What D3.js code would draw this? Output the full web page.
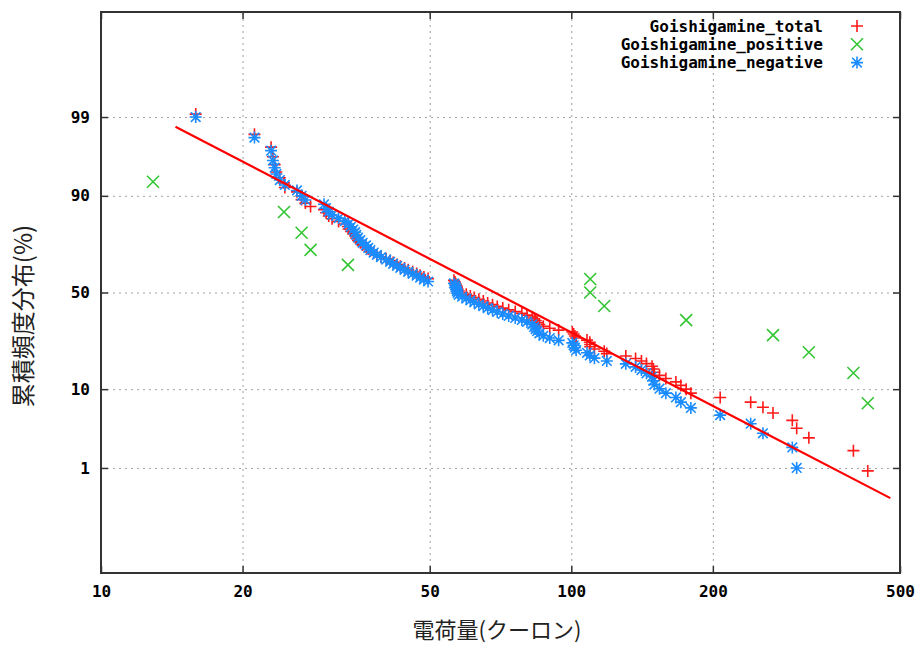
<!DOCTYPE html>
<html>
<head>
<meta charset="utf-8">
<script src="https://cdn.jsdelivr.net/npm/d3@7"></script>
<style>
  body { margin: 0; background: #fff; }
  .tick text { font-family: "DejaVu Sans Mono", monospace; font-weight: bold; font-size: 16px; fill: #000; }
  .grid line { stroke: #a0a0a0; stroke-dasharray: 2,4; }
  .grid path { display: none; }
</style>
</head>
<body>
<div id="chart"></div>
<script>
// negative discharges (blue *)
const negCharge = [15.9,21.2,23.0,23.2,23.4,23.6,24.0,24.6,26.1,26.7,27.2,29.8,30.1,30.5,31.0,32.0,33.0,33.6,34.0,34.4,
  34.7,34.9,35.2,35.6,36.0,36.6,37.0,37.4,38.0,38.6,39.4,40.4,41.2,41.8,42.6,43.3,44.2,45.0,46.0,46.9,
  47.7,48.6,49.6,56.3,56.6,56.8,57.0,57.1,57.3,57.6,58.6,59.8,61.0,62.2,63.6,65.0,66.4,68.0,69.6,71.5,
  73.6,76.0,78.5,80.5,82.6,83.4,84.0,84.6,85.5,87.2,90.0,94.0,100.5,101.2,101.8,102.4,108.0,109.5,112.0,119.0,
  130.6,137.0,141.0,144.5,148.5,149.5,150.2,154.0,158.9,166.9,171.0,179.6,207.3,240.7,255.6,295.1,301.5];
const negPct = [99.0,98.0,97.0,96.0,95.1,94.2,93.2,92.3,91.2,90.0,89.0,87.9,86.8,85.8,84.8,83.8,82.8,81.8,80.8,79.8,
  78.8,77.8,76.7,75.6,74.5,73.4,72.3,71.3,70.2,69.1,68.0,66.9,65.8,64.8,63.8,62.8,61.8,60.8,59.8,58.8,
  57.8,56.8,55.8,54.8,53.8,52.8,51.8,50.8,49.8,48.8,47.8,46.8,45.8,44.8,43.8,42.8,41.8,40.8,39.8,38.8,
  37.8,36.8,35.8,34.8,33.6,32.4,31.4,30.4,29.4,28.3,27.3,26.3,25.2,24.2,23.2,22.2,21.2,20.2,19.2,18.2,
  17.2,16.2,15.2,14.2,13.2,12.1,11.1,10.1,9.1,8.2,7.3,6.3,5.2,4.1,3.1,2.0,1.0];

// positive discharges (green x)
const posCharge = [12.9,24.5,26.7,27.9,33.5,109.7,109.7,117.5,175.5,268.5,320,398,427];
const posPct = [92.9,85.7,78.6,71.4,64.3,57.1,50.0,42.9,35.7,28.6,21.4,14.3,7.1];

// all discharges (red +)
const totCharge = [15.9,21.2,23.0,23.2,23.4,23.6,24.0,24.5,24.6,26.1,26.7,26.7,27.2,27.9,29.8,30.1,30.5,31.0,32.0,33.0,
  33.5,33.6,34.0,34.4,34.7,34.9,35.2,35.6,36.0,36.6,37.0,37.4,38.0,38.6,39.4,40.4,41.2,41.8,42.6,43.3,
  44.2,45.0,46.0,46.9,47.7,48.6,49.6,56.3,56.6,56.8,57.0,57.1,57.3,57.6,58.6,59.8,61.0,62.2,63.6,65.0,
  66.4,68.0,69.6,71.5,73.6,76.0,78.5,80.5,82.6,83.4,84.0,84.6,85.5,87.2,90.0,94.0,100.5,101.2,101.8,102.4,
  108.0,109.5,109.7,109.7,112.0,117.5,119.0,130.6,137.0,141.0,144.5,148.5,149.5,150.2,154.0,158.9,166.9,171.0,175.5,179.6,
  207.3,240.7,255.6,268.5,295.1,301.5,320,398,427];
const totPct = [99.1,98.2,97.3,96.4,95.5,94.5,93.6,92.7,91.8,90.9,90.0,89.1,88.2,87.3,86.4,85.5,84.5,83.6,82.7,81.8,
  80.9,80.0,79.1,78.2,77.3,76.4,75.5,74.5,73.6,72.7,71.8,70.9,70.0,69.1,68.2,67.3,66.4,65.5,64.5,63.6,
  62.7,61.8,60.9,60.0,59.1,58.2,57.3,56.4,55.5,54.5,53.6,52.7,51.8,50.9,50.0,49.1,48.2,47.3,46.4,45.5,
  44.5,43.6,42.7,41.8,40.9,40.0,39.1,38.2,37.3,36.4,35.5,34.5,33.6,32.7,31.8,30.9,30.0,29.1,28.2,27.3,
  26.4,25.5,24.5,23.6,22.7,21.8,20.9,20.0,19.1,18.2,17.3,16.4,15.5,14.5,13.6,12.7,11.8,10.9,10.0,9.1,
  8.2,7.3,6.4,5.5,4.5,3.6,2.7,1.8,0.9];

// fitted log-normal line (end points)
const fitCharge = [14.4, 477];
const fitPct = [98.6, 0.32];

const xTicks = [10, 20, 50, 100, 200, 500];
const yTicks = [1, 10, 50, 90, 99];

const MARGIN = { top: 12, right: 15, bottom: 73, left: 101 };
const WIDTH = 915 - MARGIN.left - MARGIN.right;
const HEIGHT = 646 - MARGIN.top - MARGIN.bottom;

// inverse normal CDF (Acklam) for the probability axis
function probit(p) {
  const a = [-3.969683028665376e+01, 2.209460984245205e+02, -2.759285104469687e+02, 1.383577518672690e+02, -3.066479806614716e+01, 2.506628277459239e+00];
  const b = [-5.447609879822406e+01, 1.615858368580409e+02, -1.556989798598866e+02, 6.680131188771972e+01, -1.328068155288572e+01];
  const c = [-7.784894002430293e-03, -3.223964580411365e-01, -2.400758277161838e+00, -2.549732539343734e+00, 4.374664141464968e+00, 2.938163982698783e+00];
  const d = [7.784695709041462e-03, 3.224671290700398e-01, 2.445134137142996e+00, 3.754408661907416e+00];
  const pl = 0.02425;
  let q, r;
  if (p < pl) {
    q = Math.sqrt(-2 * Math.log(p));
    return (((((c[0]*q+c[1])*q+c[2])*q+c[3])*q+c[4])*q+c[5]) / ((((d[0]*q+d[1])*q+d[2])*q+d[3])*q+1);
  }
  if (p <= 1 - pl) {
    q = p - 0.5; r = q * q;
    return (((((a[0]*r+a[1])*r+a[2])*r+a[3])*r+a[4])*r+a[5])*q / (((((b[0]*r+b[1])*r+b[2])*r+b[3])*r+b[4])*r+1);
  }
  q = Math.sqrt(-2 * Math.log(1 - p));
  return -(((((c[0]*q+c[1])*q+c[2])*q+c[3])*q+c[4])*q+c[5]) / ((((d[0]*q+d[1])*q+d[2])*q+d[3])*q+1);
}

const svg = d3.select('#chart')
  .append('svg')
    .attr('width', 915)
    .attr('height', 646)
  .append('g')
    .attr('transform', `translate(${MARGIN.left}, ${MARGIN.top})`);

const x = d3.scaleLog().domain([10, 500]).range([0, WIDTH]);
const yz = d3.scaleLinear().domain([probit(0.0001), probit(0.9999)]).range([HEIGHT, 0]);
const y = pct => yz(probit(pct / 100));

// grid
svg.append('g').attr('class', 'grid')
  .attr('transform', `translate(0, ${HEIGHT})`)
  .call(d3.axisBottom(x).tickValues(xTicks.slice(1, -1)).tickSize(-HEIGHT).tickFormat(''));
svg.append('g').attr('class', 'grid')
  .call(d3.axisLeft(yz).tickValues(yTicks.map(v => probit(v / 100))).tickSize(-WIDTH).tickFormat(''));

// axes, ticks inward on all sides
svg.append('g')
  .attr('transform', `translate(0, ${HEIGHT})`)
  .call(d3.axisBottom(x).tickValues(xTicks).tickFormat(d3.format('d')).tickSize(-7).tickPadding(13));
svg.append('g')
  .call(d3.axisLeft(yz).tickValues(yTicks.map(v => probit(v / 100)))
    .tickFormat((d, i) => yTicks[i]).tickSize(-7).tickPadding(11));
svg.append('g').call(d3.axisTop(x).tickValues(xTicks).tickSize(-7).tickFormat(''));
svg.append('g').attr('transform', `translate(${WIDTH}, 0)`)
  .call(d3.axisRight(yz).tickValues(yTicks.map(v => probit(v / 100))).tickSize(-7).tickFormat(''));

svg.selectAll('.domain').attr('stroke', 'none');
svg.selectAll('.tick line').filter(function() { return !this.closest('.grid'); })
  .attr('stroke', '#333').attr('stroke-width', 1.5);

svg.append('rect')
  .attr('width', WIDTH).attr('height', HEIGHT)
  .attr('fill', 'none').attr('stroke', '#333').attr('stroke-width', 2);

// marker shapes
const s = 6;
const plusPath = `M${-s},0H${s}M0,${-s}V${s}`;
const crossPath = `M${-s},${-s}L${s},${s}M${-s},${s}L${s},${-s}`;
const starPath = plusPath + `M${-s*0.8},${-s*0.8}L${s*0.8},${s*0.8}M${-s*0.8},${s*0.8}L${s*0.8},${-s*0.8}`;

const RED = '#ff1a1a', GREEN = '#33c633', BLUE = '#1a8cff';

function plotPoints(xs, ps, path, color) {
  svg.append('g')
    .selectAll('path')
    .data(xs.map((v, i) => [v, ps[i]]))
    .enter()
    .append('path')
      .attr('d', path)
      .attr('transform', d => `translate(${x(d[0])}, ${y(d[1])})`)
      .attr('fill', 'none')
      .attr('stroke', color)
      .attr('stroke-width', 1.6);
}

plotPoints(totCharge, totPct, plusPath, RED);
plotPoints(posCharge, posPct, crossPath, GREEN);
plotPoints(negCharge, negPct, starPath, BLUE);

// fit line
svg.append('path')
  .datum(fitCharge.map((v, i) => [v, fitPct[i]]))
  .attr('d', d3.line().x(d => x(d[0])).y(d => y(d[1])))
  .attr('fill', 'none')
  .attr('stroke', '#ff0000')
  .attr('stroke-width', 2.2);

// legend
const legend = [
  { name: 'Goishigamine_total', path: plusPath, color: RED },
  { name: 'Goishigamine_positive', path: crossPath, color: GREEN },
  { name: 'Goishigamine_negative', path: starPath, color: BLUE }
];
const lg = svg.append('g');
legend.forEach((d, i) => {
  lg.append('text')
    .attr('x', 722).attr('y', 14 + i * 18.3)
    .attr('dy', '0.35em')
    .attr('text-anchor', 'end')
    .attr('font-family', '"DejaVu Sans Mono", monospace')
    .attr('font-weight', 'bold')
    .attr('font-size', '16px')
    .text(d.name);
  lg.append('path')
    .attr('d', d.path)
    .attr('transform', `translate(756, ${14 + i * 18.3})`)
    .attr('fill', 'none').attr('stroke', d.color).attr('stroke-width', 1.6);
});

// axis titles
svg.append('text')
  .attr('x', 396).attr('y', 626)
  .attr('text-anchor', 'middle')
  .attr('font-family', '"Noto Sans CJK JP", sans-serif')
  .attr('font-size', '22px')
  .attr('fill', '#222')
  .text('電荷量(クーロン)');

svg.append('text')
  .attr('transform', 'rotate(-90)')
  .attr('x', -304).attr('y', -69)
  .attr('text-anchor', 'middle')
  .attr('font-family', '"Noto Sans CJK JP", sans-serif')
  .attr('font-size', '24px')
  .attr('fill', '#222')
  .text('累積頻度分布(%)');
</script>
</body>
</html>
